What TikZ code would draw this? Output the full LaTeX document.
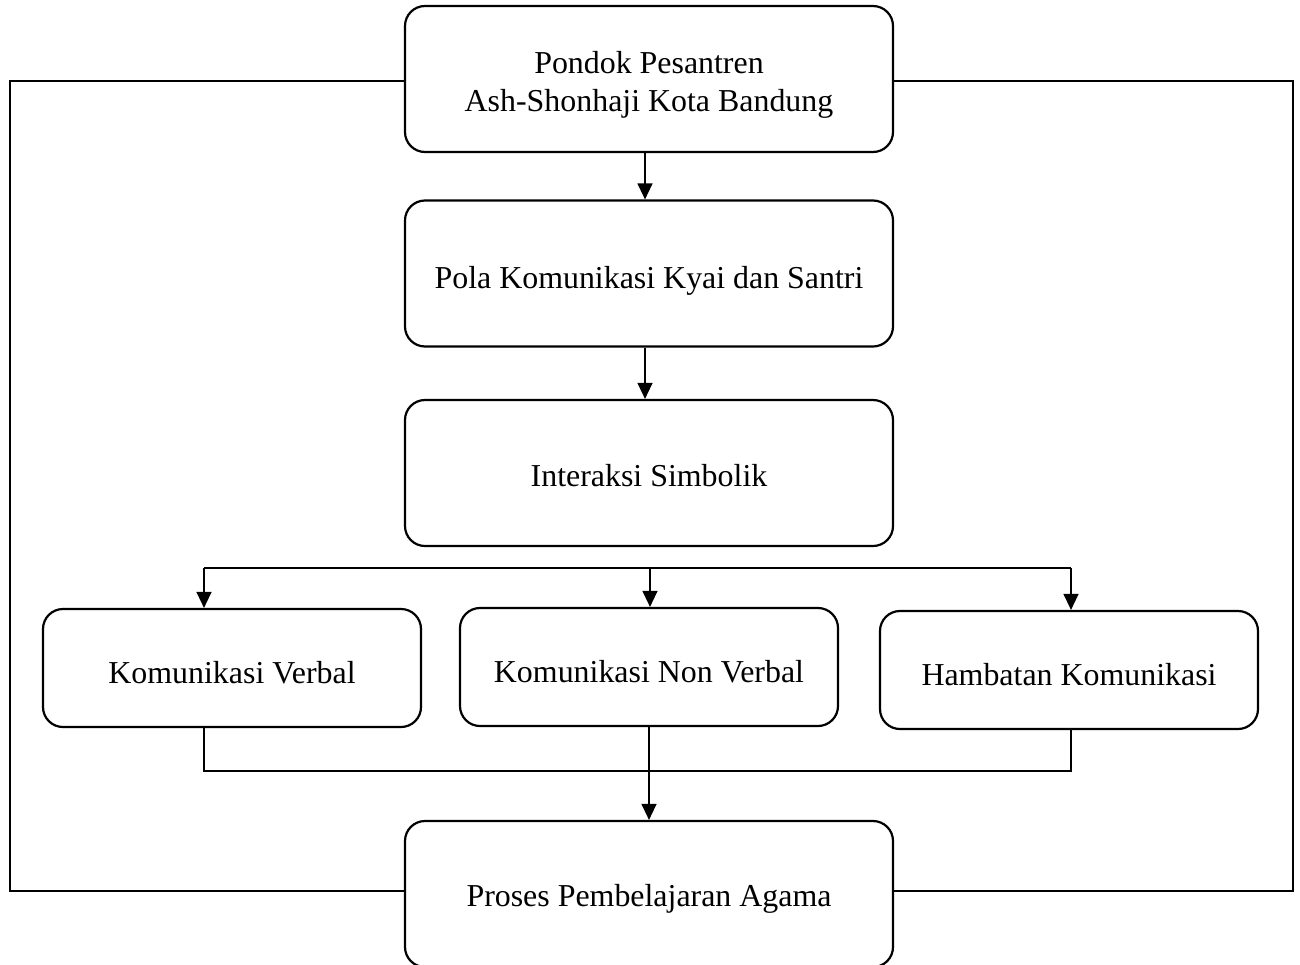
\documentclass[tikz,border=0pt]{standalone}
\usepackage{fontspec}
\setmainfont{Liberation Serif}
\usetikzlibrary{arrows.meta}
\begin{document}
\begin{tikzpicture}[x=1pt,y=-1pt,
  txt/.style={font=\fontsize{31.9}{38}\selectfont, align=center, inner sep=0pt, yshift=-5pt},
  box/.style={draw, line width=2.2pt, rounded corners=20pt, fill=white, inner sep=0pt},
  bigbox/.style={box, minimum width=488pt, minimum height=146pt},
  smallbox/.style={box, minimum width=378pt, minimum height=118pt},
  conn/.style={line width=1.3pt},
  outer/.style={line width=2.5pt},
  arr/.style={conn, -{Triangle[width=15pt,length=16pt]}}]
\useasboundingbox (0,0) rectangle (1300,964);
\clip (0,0) rectangle (1300,964);
% frame corners
\coordinate (ctl) at (10,81);
\coordinate (cbl) at (10,891);
\coordinate (ctr) at (1293,81);
\coordinate (cbr) at (1293,891);
% nodes
\node[bigbox, label={[txt,yshift=-1pt]center:Pondok Pesantren\\Ash-Shonhaji Kota Bandung}] (b1) at (649,79) {};
\node[bigbox, label={[txt,yshift=-2pt]center:Pola Komunikasi Kyai dan Santri}] (b2) at (649,273.5) {};
\node[bigbox, label={[txt,yshift=2pt]center:Interaksi Simbolik}] (b3) at (649,473) {};
\node[smallbox, label={[txt]center:Komunikasi Verbal}] (b4) at (232,668) {};
\node[smallbox, label={[txt]center:Komunikasi Non Verbal}] (b5) at (649,667) {};
\node[smallbox, label={[txt]center:Hambatan Komunikasi}] (b6) at (1069,670) {};
\node[bigbox, label={[txt]center:Proses Pembelajaran Agama}] (b7) at (649,894) {};
% outer frame connectors
\draw[outer] (b1.west |- ctl) -- (ctl) -- (cbl) -- (b7.west |- cbl);
\draw[outer] (b1.east |- ctr) -- (ctr) -- (cbr) -- (b7.east |- cbr);
% vertical arrows
\draw[arr] ([xshift=-4pt]b1.south) -- ([xshift=-4pt]b2.north);
\draw[arr] ([xshift=-4pt]b2.south) -- ([xshift=-4pt]b3.north);
% split
\coordinate (hl) at (204,568);
\coordinate (hm) at (650,568);
\coordinate (hr) at (1071,568);
\draw[conn] (hl) -- (hr);
\draw[arr] (hl) -- (hl |- b4.north);
\draw[arr] (hm) -- (hm |- b5.north);
\draw[arr] (hr) -- (hr |- b6.north);
% merge
\coordinate (ml) at (204,771);
\coordinate (mr) at (1071,771);
\draw[conn] (hl |- b4.south) -- (ml) -- (mr) -- (hr |- b6.south);
\draw[arr] (b5.south) -- (b7.north);
\end{tikzpicture}
\end{document}
